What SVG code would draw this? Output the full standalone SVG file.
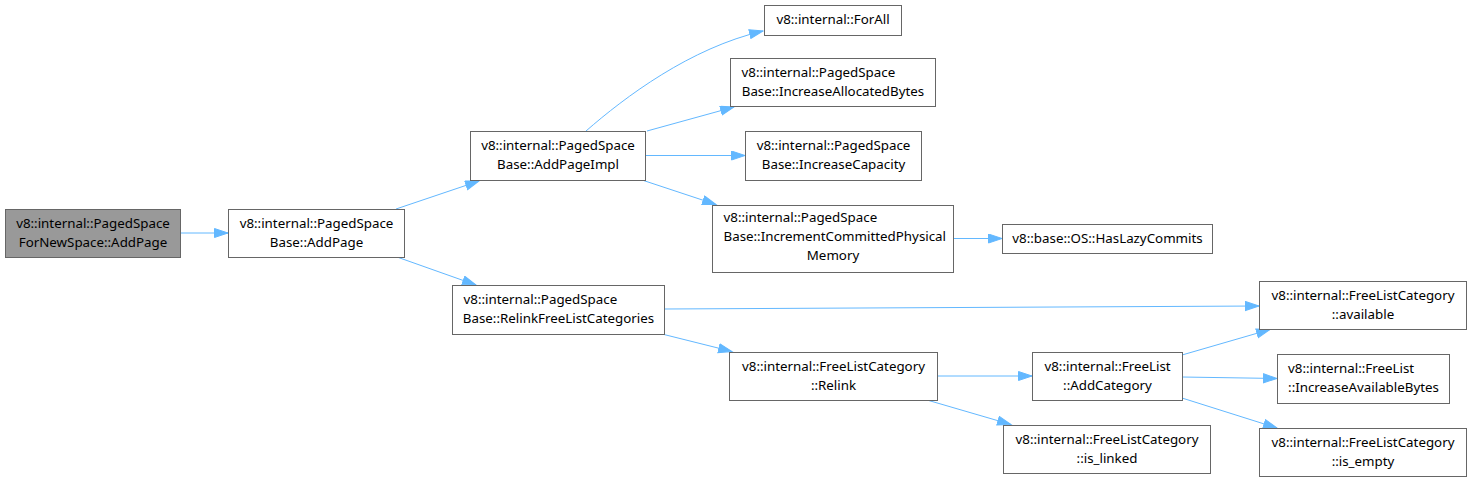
<svg xmlns="http://www.w3.org/2000/svg" width="1472" height="482" viewBox="0 0 1472 482">
<style>
.n rect{fill:#ffffff;stroke:#666666;stroke-width:1}
.n.g rect{fill:#999999}
.n text{font-family:"Noto Sans","DejaVu Sans",sans-serif;font-size:13.33px;fill:#000000;text-anchor:middle}
.n text.l{text-anchor:start}
.e path{fill:none;stroke:#63b8ff;stroke-width:1}
</style>
<defs>
<marker id="ah" markerUnits="userSpaceOnUse" markerWidth="16" markerHeight="12" refX="14" refY="5" orient="auto">
<path d="M0.5,0.5 L14,5 L0.5,9.5 z" fill="#63b8ff" stroke="#63b8ff" stroke-width="1"/>
</marker>
</defs>
<rect width="1472" height="482" fill="#ffffff"/>
<g class="e" id="edges">
<path d="M180.5,233 L228,233" marker-end="url(#ah)"/>
<path d="M396,209 L479,181" marker-end="url(#ah)"/>
<path d="M397,257 L476,285" marker-end="url(#ah)"/>
<path d="M586,131 C625,97 690,48 763,31" marker-end="url(#ah)"/>
<path d="M647,131 L734,107" marker-end="url(#ah)"/>
<path d="M645,155.5 L745,155.5" marker-end="url(#ah)"/>
<path d="M642,180 L716,204.5" marker-end="url(#ah)"/>
<path d="M953,238.5 L1002,238.5" marker-end="url(#ah)"/>
<path d="M664,309 L1259,306" marker-end="url(#ah)"/>
<path d="M662,334 L732,351.5" marker-end="url(#ah)"/>
<path d="M937,376 L1032,376" marker-end="url(#ah)"/>
<path d="M927,400 L1011,424.5" marker-end="url(#ah)"/>
<path d="M1182,355 L1270,329.5" marker-end="url(#ah)"/>
<path d="M1182,377 L1277,378.5" marker-end="url(#ah)"/>
<path d="M1182,398 L1277,428" marker-end="url(#ah)"/>
</g>
<g class="n g" id="node1">
<rect x="5.5" y="209.5" width="175" height="48"/>
<text x="93" y="227.5">v8::internal::PagedSpace</text>
<text x="93" y="246.5">ForNewSpace::AddPage</text>
</g>
<g class="n" id="node2">
<rect x="228.5" y="209.5" width="176" height="48"/>
<text x="316.5" y="227.5">v8::internal::PagedSpace</text>
<text x="316.5" y="246.5">Base::AddPage</text>
</g>
<g class="n" id="node3">
<rect x="470.5" y="131.5" width="175" height="49"/>
<text x="558" y="150">v8::internal::PagedSpace</text>
<text x="558" y="169">Base::AddPageImpl</text>
</g>
<g class="n" id="node4">
<rect x="764.5" y="5.5" width="137" height="30"/>
<text x="833" y="24">v8::internal::ForAll</text>
</g>
<g class="n" id="node5">
<rect x="730.5" y="58.5" width="205" height="48"/>
<text class="l" x="741.5" y="76.5">v8::internal::PagedSpace</text>
<text x="833" y="95.5">Base::IncreaseAllocatedBytes</text>
</g>
<g class="n" id="node6">
<rect x="745.5" y="131.5" width="176" height="49"/>
<text x="833.5" y="150">v8::internal::PagedSpace</text>
<text x="833.5" y="169">Base::IncreaseCapacity</text>
</g>
<g class="n" id="node7">
<rect x="712.5" y="205.5" width="241" height="67"/>
<text class="l" x="723.5" y="222.3">v8::internal::PagedSpace</text>
<text class="l" x="723.5" y="241.3">Base::IncrementCommittedPhysical</text>
<text x="833" y="260.3">Memory</text>
</g>
<g class="n" id="node8">
<rect x="1002.5" y="224.5" width="210" height="29"/>
<text x="1107.5" y="242.5">v8::base::OS::HasLazyCommits</text>
</g>
<g class="n" id="node9">
<rect x="452.5" y="285.5" width="212" height="49"/>
<text class="l" x="463.5" y="304">v8::internal::PagedSpace</text>
<text x="558.5" y="323">Base::RelinkFreeListCategories</text>
</g>
<g class="n" id="node10">
<rect x="729.5" y="352.5" width="208" height="48"/>
<text x="833.5" y="370.5">v8::internal::FreeListCategory</text>
<text x="833.5" y="389.5">::Relink</text>
</g>
<g class="n" id="node11">
<rect x="1032.5" y="352.5" width="150" height="48"/>
<text x="1107.5" y="370.5">v8::internal::FreeList</text>
<text x="1107.5" y="389.5">::AddCategory</text>
</g>
<g class="n" id="node12">
<rect x="1003.5" y="425.5" width="207" height="48"/>
<text x="1107" y="443.5">v8::internal::FreeListCategory</text>
<text x="1107" y="462.5">::is_linked</text>
</g>
<g class="n" id="node13">
<rect x="1259.5" y="281.5" width="207" height="48"/>
<text x="1363" y="299.5">v8::internal::FreeListCategory</text>
<text x="1363" y="318.5">::available</text>
</g>
<g class="n" id="node14">
<rect x="1277.5" y="354.5" width="172" height="49"/>
<text class="l" x="1288" y="373">v8::internal::FreeList</text>
<text x="1363.5" y="392">::IncreaseAvailableBytes</text>
</g>
<g class="n" id="node15">
<rect x="1259.5" y="428.5" width="207" height="48"/>
<text x="1363" y="446.5">v8::internal::FreeListCategory</text>
<text x="1363" y="465.5">::is_empty</text>
</g>
</svg>
